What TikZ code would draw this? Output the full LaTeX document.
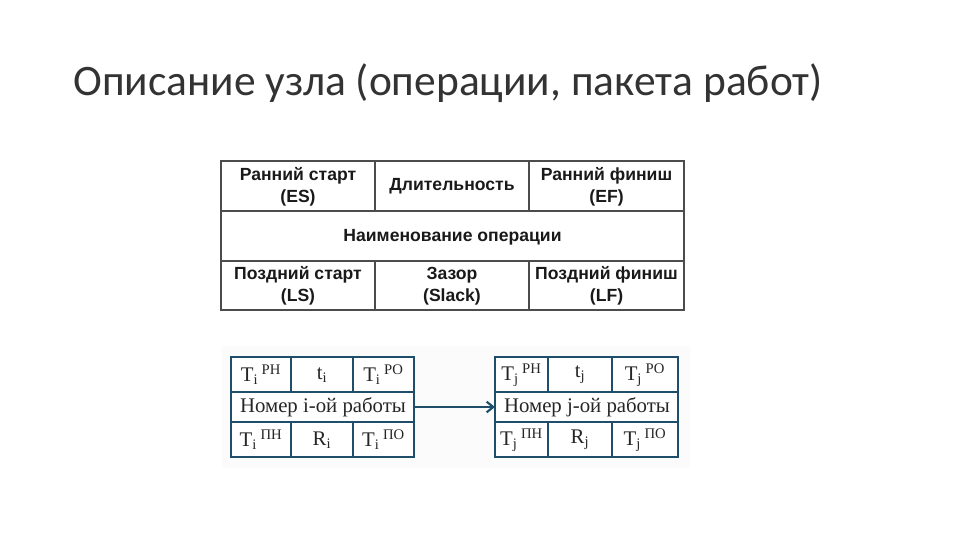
\documentclass[tikz,border=0pt]{standalone}
\usepackage{fontspec}
\setmainfont{Liberation Serif}
\newfontfamily\titlefont{Carlito}
\newfontfamily\tabfont{Liberation Sans}
\usetikzlibrary{arrows.meta}
\definecolor{navy}{HTML}{1F4E6B}
\definecolor{titlegray}{HTML}{333333}
\newcommand{\supx}[1]{$^{\mbox{\fontsize{11}{11}\selectfont #1}}$}
\tikzset{
  tabtext/.style={font=\tabfont\bfseries\fontsize{13.2}{16.5}\selectfont, align=center, text=black!90},
  cell/.style={font=\fontsize{15.6}{17}\selectfont, text=black!85},
  box/.style={draw=navy, line width=1.6pt, fill=white},
  sep/.style={draw=navy, line width=1.6pt},
  grid/.style={draw=black!70, line width=0.8pt},
}
\begin{document}
\begin{tikzpicture}[x=0.75pt,y=-0.75pt]
\useasboundingbox (0,0) rectangle (960,540);
% title
\node[anchor=base west, inner sep=0, font=\titlefont\fontsize{32.6}{38}\selectfont, text=titlegray] (title) at (73,95) {Описание узла (операции, пакета работ)};
% top table
\draw[grid] (221,161) rectangle (684,310);
\draw[grid] (221,211) -- (684,211);
\draw[grid] (221,261) -- (684,261);
\draw[grid] (375,161) -- (375,211);
\draw[grid] (529,161) -- (529,211);
\draw[grid] (375,261) -- (375,310);
\draw[grid] (529,261) -- (529,310);
\node[tabtext] (es) at (298,186.5) {Ранний старт\\(ES)};
\node[tabtext] (dur) at (452,186.5) {Длительность};
\node[tabtext] (ef) at (606.5,186.5) {Ранний финиш\\(EF)};
\node[tabtext] (name) at (452.5,237) {Наименование операции};
\node[tabtext] (ls) at (298,286) {Поздний старт\\(LS)};
\node[tabtext] (slack) at (452,286) {Зазор\\(Slack)};
\node[tabtext] (lf) at (606.5,286) {Поздний финиш\\(LF)};
% bottom panel
\fill[black!1.5] (222,346) rectangle (690,468);
% left box
\draw[box] (231,357) rectangle (414,457);
\draw[sep] (231,392) -- (414,392);
\draw[sep] (231,422) -- (414,422);
\draw[sep] (291,357) -- (291,392);
\draw[sep] (353,357) -- (353,392);
\draw[sep] (291,422) -- (291,457);
\draw[sep] (353,422) -- (353,457);
\node[cell] (a1) at (261,375) {Т$_{\mathrm{i}}$\,\supx{РН}};
\node[cell] (a2) at (322,375) {t$_{\mathrm{i}}$};
\node[cell] (a3) at (383.5,375) {Т$_{\mathrm{i}}$\,\supx{РО}};
\node[cell, inner sep=0] (a) at (323,407) {Номер i-ой работы};
\node[cell] (a4) at (261,440) {Т$_{\mathrm{i}}$\,\supx{ПН}};
\node[cell] (a5) at (322,440) {R$_{\mathrm{i}}$};
\node[cell] (a6) at (383.5,440) {Т$_{\mathrm{i}}$\,\supx{ПО}};
% right box
\draw[box] (495,357) rectangle (678,457);
\draw[sep] (495,392) -- (678,392);
\draw[sep] (495,422) -- (678,422);
\draw[sep] (548,357) -- (548,392);
\draw[sep] (612,357) -- (612,392);
\draw[sep] (548,422) -- (548,457);
\draw[sep] (612,422) -- (612,457);
\node[cell] (b1) at (521.5,375) {Т$_{\mathrm{j}}$\,\supx{РН}};
\node[cell] (b2) at (580,375) {t$_{\mathrm{j}}$};
\node[cell] (b3) at (645,375) {Т$_{\mathrm{j}}$\,\supx{РО}};
\node[cell, inner sep=0] (b) at (587,407) {Номер j-ой работы};
\node[cell] (b4) at (521.5,440) {Т$_{\mathrm{j}}$\,\supx{ПН}};
\node[cell] (b5) at (580,440) {R$_{\mathrm{j}}$};
\node[cell] (b6) at (645,440) {Т$_{\mathrm{j}}$\,\supx{ПО}};
% arrow
\coordinate (aout) at (414,407);
\coordinate (bin) at (495,407);
\draw[navy, line width=1.6pt, -{Straight Barb[length=5pt,width=8pt]}] (aout) -- (bin);
\end{tikzpicture}
\end{document}
